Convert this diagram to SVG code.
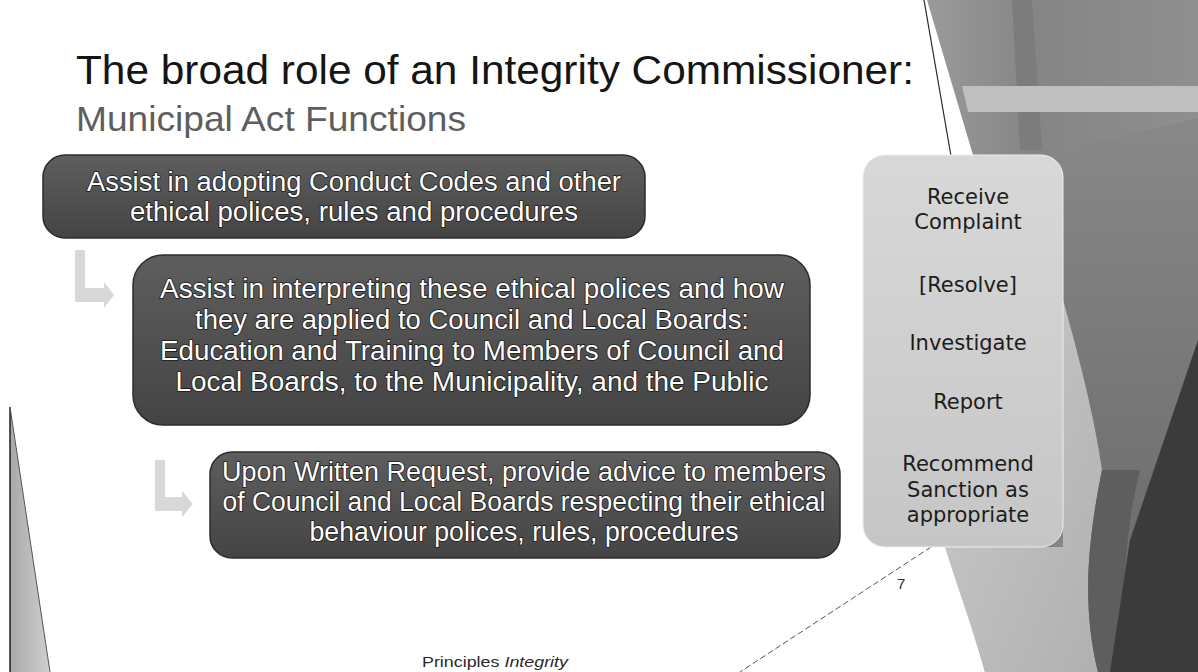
<svg xmlns="http://www.w3.org/2000/svg" width="1198" height="672" viewBox="0 0 1198 672">
<defs>
<linearGradient id="dark" x1="0" y1="0" x2="0" y2="1"><stop offset="0" stop-color="#5e5e5e"/><stop offset="1" stop-color="#444444"/></linearGradient>
<linearGradient id="light" x1="0" y1="0" x2="0" y2="1"><stop offset="0" stop-color="#d8d8d8"/><stop offset="1" stop-color="#c6c6c6"/></linearGradient>
<linearGradient id="tri" x1="0" y1="0" x2="1" y2="0"><stop offset="0" stop-color="#a8a8a8"/><stop offset="1" stop-color="#d0d0d0"/></linearGradient>
<linearGradient id="top" x1="0" y1="0" x2="1" y2="0"><stop offset="0" stop-color="#9a9a9a"/><stop offset="0.4" stop-color="#858585"/><stop offset="1" stop-color="#8f8f8f"/></linearGradient>
<linearGradient id="side" x1="0" y1="0" x2="0" y2="1"><stop offset="0" stop-color="#888888"/><stop offset="1" stop-color="#666666"/></linearGradient>
<linearGradient id="sweep" x1="0" y1="0" x2="1" y2="1"><stop offset="0" stop-color="#cbcbcb"/><stop offset="1" stop-color="#b0b0b0"/></linearGradient>
<style>
.title{font-family:"Liberation Sans",Arial,sans-serif;font-size:41px;fill:#151515}
.sub{font-family:"Liberation Sans",Arial,sans-serif;font-size:35px;fill:#5e5e5e}
.box{fill:url(#dark);stroke:#2c2c2c;stroke-width:1.5}
.bt{font-family:"Liberation Sans",Arial,sans-serif;font-size:27px;fill:#ffffff;stroke:#1a1a1a;stroke-width:1.6px;paint-order:stroke;text-anchor:middle}
.rbox{fill:url(#light);stroke:#eeeeee;stroke-width:1}
.rt{font-family:"DejaVu Sans",Verdana,sans-serif;font-size:21px;fill:#1c1c1c;text-anchor:middle}
.conn{fill:#d8d8d8}
.foot{font-family:"Liberation Sans",Arial,sans-serif;font-size:15px;fill:#2a2a2a}
</style>
</defs>
<rect width="1198" height="672" fill="#ffffff"/>
<g id="background">
<polygon points="927,0 1198,0 1198,672 985,672 950,547 973,155" fill="url(#top)"/>
<polygon points="1012,0 1032,0 1042,150 1020,150" fill="#7c7c7c"/>
<polygon points="962,86 1198,86 1198,112 968,112" fill="#bfbfbf"/>
<polygon points="1063,150 1198,118 1198,672 1063,672" fill="url(#side)"/>
<path d="M1063,300 C1080,360 1095,420 1102,470 C1090,530 1080,600 1098,672 L985,672 C970,620 955,580 945,547 L1063,547 Z" fill="url(#sweep)"/>
<path d="M1102,470 C1090,530 1080,600 1098,672 L1130,672 C1120,600 1125,530 1140,470 Z" fill="#5e5e5e"/>
<polygon points="1198,340 1198,672 1110,672 1130,540" fill="#3b3b3b"/>
<line x1="924" y1="0" x2="951" y2="156" stroke="#2a2a2a" stroke-width="1.2"/>
<polygon points="10,407 10,672 50,672" fill="url(#tri)"/>
<line x1="10" y1="407" x2="10" y2="672" stroke="#222" stroke-width="1.5"/>
<line x1="10" y1="407" x2="50" y2="672" stroke="#555" stroke-width="1"/>
</g>
<g id="title">
<text class="title" x="76" y="84" textLength="838" lengthAdjust="spacingAndGlyphs">The broad role of an Integrity Commissioner:</text>
<text class="sub" x="76" y="131" textLength="390" lengthAdjust="spacingAndGlyphs">Municipal Act Functions</text>
</g>
<g id="connectors">
<path class="conn" d="M75,250 H85 V288 H104 V282 L114,295 L104,308 V302 H75 Z"/>
<path class="conn" d="M155,460 H165 V497 H182 V491 L193,504 L182,517 V511 H155 Z"/>
<line x1="931" y1="547" x2="740" y2="672" stroke="#555" stroke-width="1" stroke-dasharray="6 3"/>
</g>
<g id="node1">
<rect class="box" x="43" y="155" width="602" height="83" rx="22"/>
<text class="bt" x="354" y="191" textLength="534" lengthAdjust="spacingAndGlyphs">Assist in adopting Conduct Codes and other</text>
<text class="bt" x="354" y="221" textLength="448" lengthAdjust="spacingAndGlyphs">ethical polices, rules and procedures</text>
</g>
<g id="node2">
<rect class="box" x="133" y="255" width="677" height="170" rx="30"/>
<text class="bt" x="472" y="298" textLength="624" lengthAdjust="spacingAndGlyphs">Assist in interpreting these ethical polices and how</text>
<text class="bt" x="472" y="329" textLength="554" lengthAdjust="spacingAndGlyphs">they are applied to Council and Local Boards:</text>
<text class="bt" x="472" y="360" textLength="624" lengthAdjust="spacingAndGlyphs">Education and Training to Members of Council and</text>
<text class="bt" x="472" y="391" textLength="593" lengthAdjust="spacingAndGlyphs">Local Boards, to the Municipality, and the Public</text>
</g>
<g id="node3">
<rect class="box" x="210" y="452" width="630" height="106" rx="22"/>
<text class="bt" x="524" y="481" textLength="604" lengthAdjust="spacingAndGlyphs">Upon Written Request, provide advice to members</text>
<text class="bt" x="524" y="511" textLength="603" lengthAdjust="spacingAndGlyphs">of Council and Local Boards respecting their ethical</text>
<text class="bt" x="524" y="541" textLength="429" lengthAdjust="spacingAndGlyphs">behaviour polices, rules, procedures</text>
</g>
<g id="node4">
<rect class="rbox" x="863" y="155" width="200" height="392" rx="22"/>
<text class="rt" x="968" y="204">Receive</text>
<text class="rt" x="968" y="229">Complaint</text>
<text class="rt" x="968" y="292">[Resolve]</text>
<text class="rt" x="968" y="350">Investigate</text>
<text class="rt" x="968" y="409">Report</text>
<text class="rt" x="968" y="471">Recommend</text>
<text class="rt" x="968" y="497">Sanction as</text>
<text class="rt" x="968" y="522">appropriate</text>
</g>
<g id="footer">
<text class="foot" x="422" y="667" textLength="146" lengthAdjust="spacingAndGlyphs">Principles <tspan font-style="italic">Integrity</tspan></text>
<text class="foot" x="897" y="589" font-size="12">7</text>
</g>
</svg>
